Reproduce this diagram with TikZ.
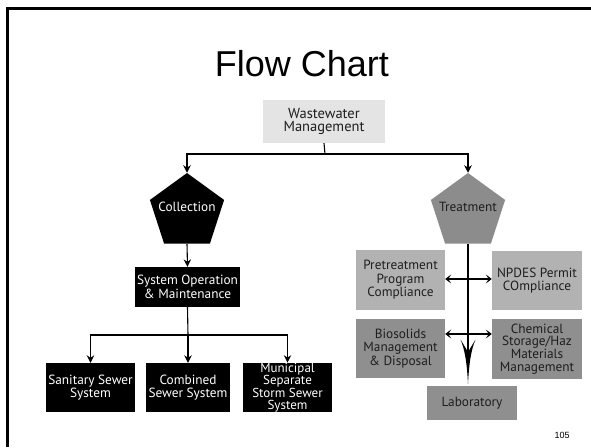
\documentclass[tikz,border=0pt]{standalone}
\usepackage{fontspec}
\setmainfont{PT Sans}
\newfontfamily\titlefont{Liberation Sans}
\usetikzlibrary{shapes.geometric,arrows.meta}

\definecolor{palebox}{HTML}{E4E4E4}
\definecolor{lightbox}{HTML}{B2B2B2}
\definecolor{darkbox}{HTML}{8F8F8F}
\definecolor{pentgray}{HTML}{8C8C8C}
\definecolor{inkgray}{HTML}{1E1E1E}

\tikzset{
  box/.style={rectangle, inner sep=0pt, align=center,
    font=\fontsize{13.3}{13.5}\selectfont},
  blackbox/.style={box, fill=black, text=white},
  lightgray/.style={box, fill=lightbox, text=inkgray},
  darkgray/.style={box, fill=darkbox, text=inkgray},
  pent/.style={regular polygon, regular polygon sides=5, minimum size=78pt,
    inner sep=0pt},
  pentlabel/.style={yshift=5pt, font=\fontsize{13.3}{13.5}\selectfont},
  link/.style={line width=1.1pt, draw=black},
  down/.style={link, -{Stealth[length=7.5pt,width=7.5pt,inset=2.5pt]}},
  twoway/.style={line width=1.8pt,
    {Stealth[length=6pt,width=9pt,inset=3pt]}-{Stealth[length=6pt,width=9pt,inset=3pt]}},
}

\begin{document}
\begin{tikzpicture}[x=1pt,y=-1pt]
  \useasboundingbox (0,0) rectangle (591,447);
  \fill[white] (0,0) rectangle (591,447);

  % slide frame: top and left edges
  \draw[line width=3pt] (7,447) -- (7,8) -- (591,8);

  % title
  \node[font=\titlefont\fontsize{36}{40}\selectfont, anchor=base] (title) at (302,76) {Flow Chart};

  % root
  \node[box, fill=palebox, text=inkgray, minimum width=122pt, minimum height=43pt,
        font=\fontsize{14.5}{13}\selectfont] (ww) at (324,121.5) {Wastewater\\Management};

  % the two branches
  \node[pent, fill=black, label={[pentlabel, text=white]center:Collection}] (col) at (187,212) {};
  \node[pent, fill=pentgray, label={[pentlabel, text=inkgray]center:Treatment}] (trt) at (468,212) {};

  \coordinate (split) at (325,154);
  \draw[link] (ww.south) -- (split);
  \draw[down] (split) -| (col.north);
  \draw[down] (split) -| (trt.north);

  % collection side
  \node[blackbox, minimum width=105pt, minimum height=40pt] (ops) at (187.5,287) {System Operation\\\& Maintenance};
  \draw[down] (col.south) -- (ops.north);

  \node[blackbox, minimum width=89pt, minimum height=49pt] (san) at (90.5,387.5) {Sanitary Sewer\\System};
  \node[blackbox, minimum width=84pt, minimum height=49pt] (comb) at (188,387.5) {Combined\\Sewer System};
  \node[blackbox, minimum width=89pt, minimum height=49pt,
        font=\fontsize{13}{11.7}\selectfont] (ms4) at (287.5,387.5) {Municipal\\Separate\\Storm Sewer\\System};

  \coordinate (fork) at (188,335);
  \draw[link] (ops.south) -- (fork);
  \draw[down] (fork) -| (san.north);
  \draw[down] (fork) -- (comb.north);
  \draw[down] (fork) -| (ms4.north);

  % treatment side
  \node[lightgray, minimum width=89pt, minimum height=60pt] (pre) at (400.5,280) {Pretreatment\\Program\\Compliance};
  \node[lightgray, minimum width=90pt, minimum height=59pt] (npdes) at (537,280.5) {NPDES Permit\\COmpliance};
  \node[darkgray, minimum width=89pt, minimum height=59pt] (bio) at (400.5,348.5) {Biosolids\\Management\\\& Disposal};
  \node[darkgray, minimum width=90pt, minimum height=60pt,
        font=\fontsize{13.3}{12.2}\selectfont] (chem) at (537,349) {Chemical\\Storage/Haz\\Materials\\Management};
  \node[darkgray, minimum width=90pt, minimum height=34pt] (lab) at (472,403) {Laboratory};

  % spine with its long barbed head
  \coordinate (tip) at (468,384);
  \draw[line width=2.6pt] (trt.south) -- (468,352);
  \fill (468,352) -- (460.5,339.5)
        .. controls (465,350) and (467,364) .. (tip)
        .. controls (469,364) and (471,350) .. (475.5,339.5) -- cycle;

  \coordinate (upperbar) at (468,279);
  \coordinate (lowerbar) at (468,334);
  \draw[twoway] (pre.east |- upperbar) -- (npdes.west |- upperbar);
  \draw[twoway] (bio.east |- lowerbar) -- (chem.west |- lowerbar);

  % page number
  \node[font=\titlefont\fontsize{9}{10}\selectfont] (pagenum) at (562,435) {105};
\end{tikzpicture}
\end{document}
